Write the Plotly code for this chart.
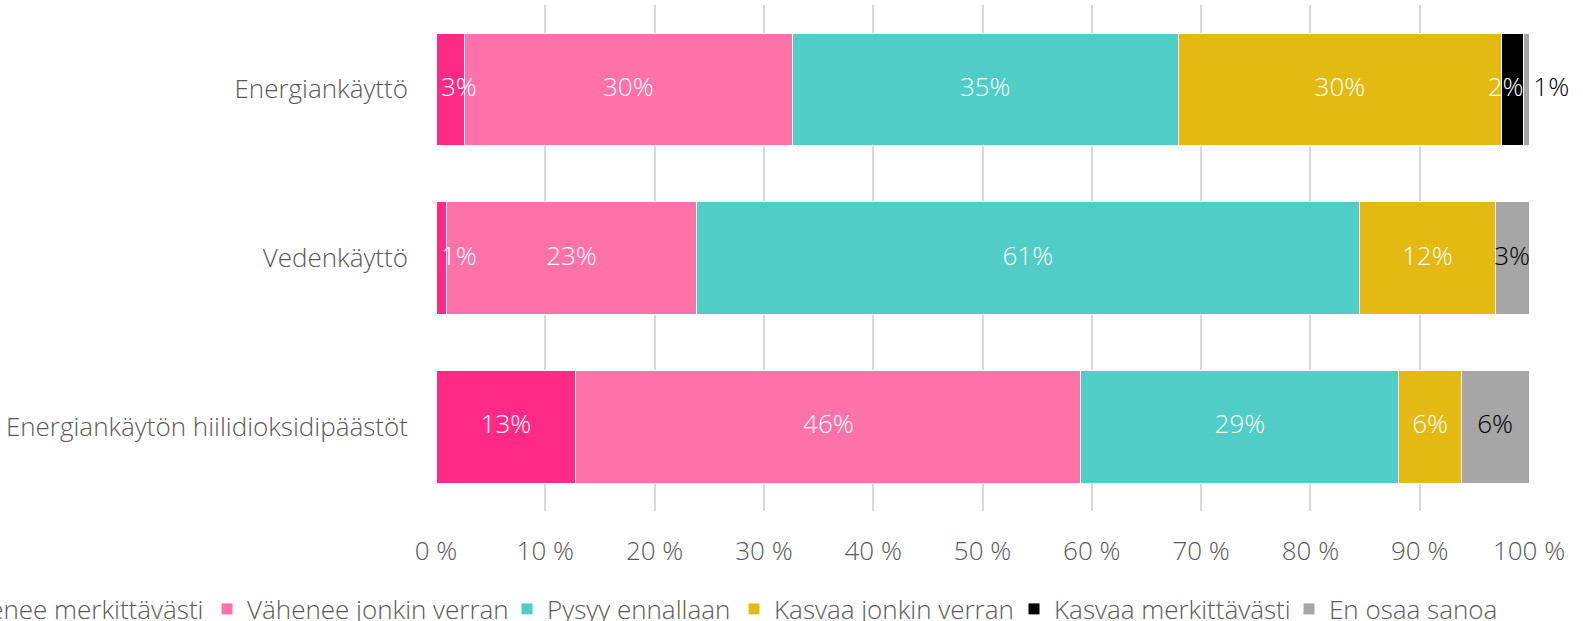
import plotly.graph_objects as go

categories = ["Energiankäyttö", "Vedenkäyttö", "Energiankäytön hiilidioksidipäästöt"]

series_names = ["Vähenee merkittävästi", "Vähenee jonkin verran", "Pysyy ennallaan",
                "Kasvaa jonkin verran", "Kasvaa merkittävästi", "En osaa sanoa"]

vahenee_merkittavasti = [2.6, 1.0, 12.8]
vahenee_jonkin_verran = [30.0, 22.8, 46.2]
pysyy_ennallaan = [35.3, 60.7, 29.1]
kasvaa_jonkin_verran = [29.6, 12.4, 5.7]
kasvaa_merkittavasti = [2.0, 0.0, 0.0]
en_osaa_sanoa = [0.5, 3.1, 6.2]

x_ticks = [0, 10, 20, 30, 40, 50, 60, 70, 80, 90, 100]
x_tick_labels = ["0 %", "10 %", "20 %", "30 %", "40 %", "50 %", "60 %", "70 %", "80 %", "90 %", "100 %"]

colors = ["#FF2A85", "#FF72A9", "#4FCDC6", "#E3B912", "#000000", "#A6A6A6"]
text_colors = ["white", "white", "white", "white", "white", "#000000"]

all_values = [vahenee_merkittavasti, vahenee_jonkin_verran, pysyy_ennallaan,
              kasvaa_jonkin_verran, kasvaa_merkittavasti, en_osaa_sanoa]

FONT = "Open Sans"
FSIZE = 26
GREY = "#595959"
X_MAX = 100

def label(v):
    return f"{int(v + 0.5)}%"

ML, PW = 436, 1093
# legend box left edges in pixels
legend_px = [-95, 207, 507, 734, 1014, 1289]

fig = go.Figure()
for i, (name, vals) in enumerate(zip(series_names, all_values)):
    fig.add_trace(go.Bar(
        y=categories, x=vals, name=name, orientation="h",
        marker=dict(color=colors[i], line=dict(color="white", width=1)),
        legend="legend" if i == 0 else f"legend{i+1}",
        hoverinfo="skip",
    ))

# data labels drawn on top of all bars, positioned from the data
PAD = 0.45  # label padding in axis units for labels pushed to a bar edge
lab_x, lab_y, lab_t, lab_pos, lab_col = [], [], [], [], []
for j, cat in enumerate(categories):
    start = 0.0
    for i, vals in enumerate(all_values):
        v = vals[j]
        if v > 0:
            txt = label(v)
            if i == 0 and v < 5:
                lab_x.append(start + PAD); lab_pos.append("middle right")
            elif i == 4 and v < 5:
                lab_x.append(start + v); lab_pos.append("middle left")
            elif i == 5 and v < 1:
                lab_x.append(min(start + v, X_MAX)); lab_pos.append("middle right")
                txt = "\u2009" + txt
            else:
                lab_x.append(start + v / 2); lab_pos.append("middle center")
            lab_y.append(cat)
            lab_t.append(txt)
            lab_col.append(text_colors[i])
        start += v

fig.add_trace(go.Scatter(
    x=lab_x, y=lab_y, text=lab_t, mode="text", textposition=lab_pos,
    textfont=dict(family=FONT, size=FSIZE, color=lab_col, weight=300),
    showlegend=False, hoverinfo="skip", cliponaxis=False,
))

layout_legends = {}
for i in range(6):
    key = "legend" if i == 0 else f"legend{i+1}"
    layout_legends[key] = dict(
        x=(legend_px[i] - ML) / PW, xanchor="left",
        y=(511 - 609) / 506, yanchor="middle",
        orientation="h", bgcolor="rgba(0,0,0,0)", borderwidth=0,
        font=dict(family=FONT, size=FSIZE, color=GREY, weight=300),
    )

fig.update_layout(
    barmode="stack",
    bargap=0.332,
    width=1583, height=621,
    margin=dict(l=ML, r=1583 - ML - PW, t=5, b=110, autoexpand=False),
    paper_bgcolor="white", plot_bgcolor="white",
    font=dict(family=FONT, size=FSIZE, color=GREY, weight=300),
    showlegend=True,
    **layout_legends,
)
fig.update_xaxes(
    range=[0, X_MAX], tickvals=x_ticks, ticktext=x_tick_labels,
    showgrid=True, gridcolor="#D9D9D9", gridwidth=2,
    zeroline=False, showline=False, ticks="", ticklabelstandoff=22,
    tickfont=dict(family=FONT, size=FSIZE, color=GREY, weight=300),
    fixedrange=True,
)
fig.update_yaxes(
    autorange="reversed", showgrid=False, zeroline=False, showline=False,
    ticks="", ticklabelstandoff=27,
    tickfont=dict(family=FONT, size=FSIZE, color=GREY, weight=300),
    fixedrange=True,
)

fig.write_html("out.html", config={"displayModeBar": False},
               post_script="document.body.style.margin='0';")
